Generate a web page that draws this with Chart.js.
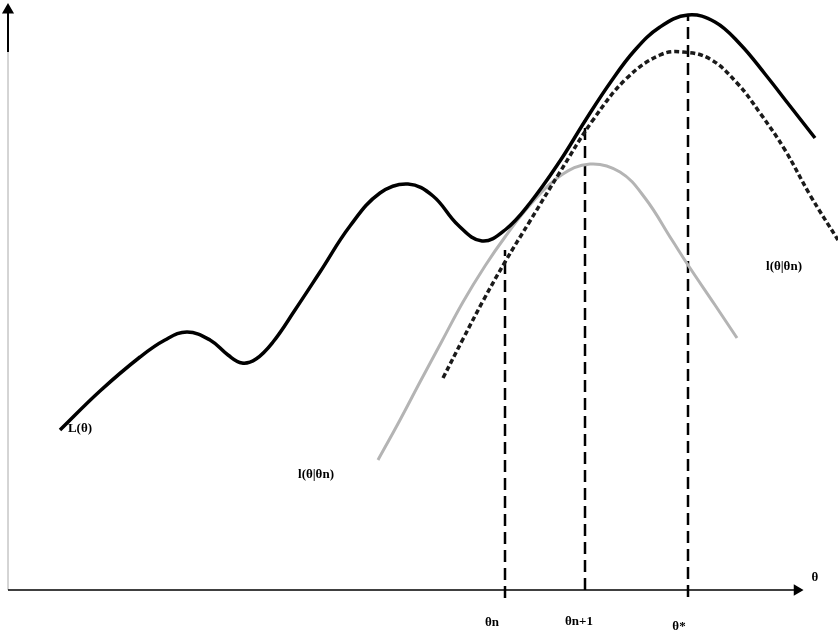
<!DOCTYPE html>
<html>
<head>
<meta charset="utf-8">
<script src="https://cdn.jsdelivr.net/npm/chart.js@4"></script>
<style>
  html, body { margin: 0; padding: 0; background: #fff; }
  #wrap { width: 838px; height: 635px; }
</style>
</head>
<body>
<div id="wrap"><canvas id="c"></canvas></div>
<script>
// L(theta), the observed likelihood (theta, value)
const thetaL = [60, 100, 140, 165, 187, 210, 228, 242, 256, 273, 295, 320, 350, 380, 408, 433, 458, 482, 505, 530, 560, 585, 610, 635, 660, 688, 715, 740, 765, 790, 815];
const valueL = [205, 244, 278, 295, 303, 295, 280, 272, 276, 293, 325, 363, 409, 442, 451, 439, 410, 394, 405, 432, 474, 514, 552, 585, 608, 620, 613, 591, 561, 529, 497];

// l(theta|theta_n+1), dashed lower bound
const thetaUpper = [443, 463, 483, 505, 530, 560, 593, 627, 660, 683, 710, 737, 760, 785, 810, 838];
const valueUpper = [257, 296, 334, 373, 414, 463, 515, 557, 580, 583, 576, 552, 522, 485, 440, 395];

// l(theta|theta_n), grey lower bound
const thetaLower = [378, 400, 420, 442, 463, 485, 505, 530, 560, 590, 620, 645, 672, 688, 715, 737];
const valueLower = [175, 215, 253, 294, 333, 369, 398, 430, 459, 471, 463, 437, 395, 370, 330, 297];

// iterates on the theta axis
const thetaN = 505, thetaN1 = 585, thetaStar = 688;
const topN = 385, topN1 = 515, topStar = 620;

const axisY = 45, axisX = 8;

const pts = (xs, ys) => xs.map((x, i) => ({ x, y: ys[i] }));

const labels = [
  { text: 'L(θ)', x: 80, y: 206 },
  { text: 'l(θ|θn)', x: 316, y: 160 },
  { text: 'l(θ|θn)', x: 784, y: 368 },
  { text: 'θ', x: 815, y: 57 },
  { text: 'θn', x: 492, y: 12 },
  { text: 'θn+1', x: 579, y: 13 },
  { text: 'θ*', x: 679, y: 8 },
];

const textPlugin = {
  id: 'texts',
  afterDatasetsDraw(chart) {
    const { ctx, scales } = chart;
    ctx.save();
    ctx.font = 'bold 13px "Liberation Serif"';
    ctx.fillStyle = '#000';
    ctx.textAlign = 'center';
    ctx.textBaseline = 'middle';
    labels.forEach(l => {
      ctx.fillText(l.text, scales.x.getPixelForValue(l.x), scales.y.getPixelForValue(l.y));
    });
    ctx.restore();
  },
};

const curve = (xs, ys, extra) => Object.assign({
  data: pts(xs, ys),
  tension: 0.4,
  pointRadius: 0,
  showLine: true,
}, extra);

const vline = (x, top, bottom) => ({
  data: [{ x, y: bottom }, { x, y: top }],
  borderColor: '#000',
  borderWidth: 2.5,
  borderDash: [12, 6],
  pointRadius: 0,
  showLine: true,
});

new Chart(document.getElementById('c'), {
  type: 'scatter',
  data: {
    datasets: [
      curve(thetaL, valueL, { borderColor: '#000', borderWidth: 3.5 }),
      curve(thetaUpper, valueUpper, { borderColor: '#1a1a1a', borderWidth: 3.5, borderDash: [5, 3] }),
      curve(thetaLower, valueLower, { borderColor: '#b4b4b4', borderWidth: 3 }),
      vline(thetaN, topN, 37),
      vline(thetaN1, topN1, axisY),
      vline(thetaStar, topStar, 38),
      // x axis with arrow
      {
        data: [{ x: axisX, y: axisY }, { x: 797, y: axisY }],
        borderColor: '#000',
        borderWidth: 1.5,
        pointRadius: [0, 5],
        pointStyle: 'triangle',
        rotation: 90,
        pointBackgroundColor: '#000',
        pointBorderColor: '#000',
        showLine: true,
      },
      // y axis, grey lower part
      {
        data: [{ x: axisX, y: axisY }, { x: axisX, y: 583 }],
        borderColor: '#aaa',
        borderWidth: 1,
        pointRadius: 0,
        showLine: true,
      },
      // y axis, black upper part with arrow
      {
        data: [{ x: axisX, y: 583 }, { x: axisX, y: 625 }],
        borderColor: '#000',
        borderWidth: 2,
        pointRadius: [0, 5],
        pointStyle: 'triangle',
        pointBackgroundColor: '#000',
        pointBorderColor: '#000',
        showLine: true,
      },
    ],
  },
  options: {
    responsive: true,
    maintainAspectRatio: false,
    animation: false,
    layout: { padding: 0, autoPadding: false },
    plugins: {
      legend: { display: false },
      tooltip: { enabled: false },
    },
    scales: {
      x: { type: 'linear', min: 0, max: 838, display: false },
      y: { type: 'linear', min: 0, max: 635, display: false },
    },
  },
  plugins: [textPlugin],
});
</script>
</body>
</html>
